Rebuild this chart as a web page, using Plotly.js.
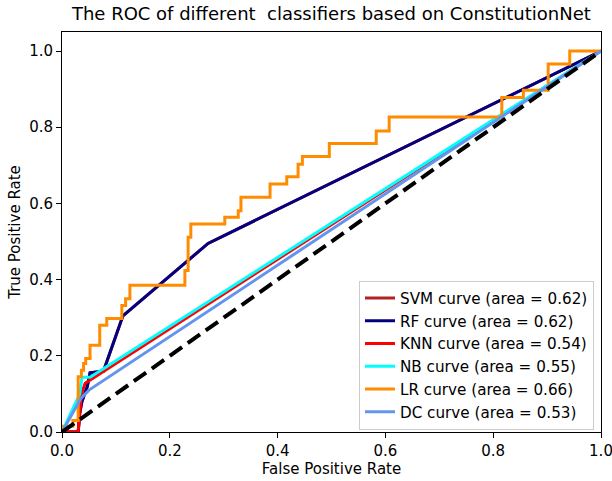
<!DOCTYPE html>
<html>
<head>
<meta charset="utf-8">
<script src="https://cdn.plot.ly/plotly-3.0.1.min.js"></script>
<style>html,body{margin:0;padding:0;background:#fff;}#chart{width:612px;height:481px;}</style>
</head>
<body>
<div id="chart"></div>
<script>
// ROC curve data
const rfFpr  = [0, 0.03, 0.033, 0.037, 0.042, 0.047, 0.052, 0.07, 0.077, 0.113, 0.271, 1.0];
const rfTpr  = [0, 0, 0.05, 0.08, 0.10, 0.12, 0.155, 0.16, 0.16, 0.305, 0.495, 1.0];
const svmFpr = rfFpr.slice();
const svmTpr = rfTpr.slice();
const knnFpr = [0, 0.03, 0.036, 0.043, 1.0];
const knnTpr = [0, 0, 0.10, 0.128, 1.0];
const nbFpr  = [0, 0.02, 0.033, 0.037, 0.052, 1.0];
const nbTpr  = [0, 0.06, 0.10, 0.144, 0.144, 1.0];
const dcFpr  = [0, 0.02, 0.035, 0.05, 1.0];
const dcTpr  = [0, 0.05, 0.088, 0.11, 1.0];
const lrFpr  = [0, 0, 0.02, 0.02, 0.03, 0.03, 0.036, 0.036, 0.040, 0.040, 0.044, 0.044, 0.052, 0.052, 0.07, 0.07, 0.083, 0.083, 0.111, 0.111, 0.118, 0.118, 0.126, 0.126, 0.228, 0.228, 0.234, 0.234, 0.239, 0.239, 0.302, 0.302, 0.327, 0.327, 0.332, 0.332, 0.386, 0.386, 0.417, 0.417, 0.438, 0.438, 0.446, 0.446, 0.496, 0.496, 0.583, 0.583, 0.607, 0.607, 0.816, 0.816, 0.856, 0.856, 0.902, 0.902, 0.942, 0.942, 1.0];
const lrTpr  = [0, 0.015, 0.015, 0.03, 0.03, 0.145, 0.145, 0.162, 0.162, 0.18, 0.18, 0.193, 0.193, 0.228, 0.228, 0.28, 0.28, 0.298, 0.298, 0.332, 0.332, 0.35, 0.35, 0.385, 0.385, 0.424, 0.424, 0.511, 0.511, 0.546, 0.546, 0.564, 0.564, 0.581, 0.581, 0.616, 0.616, 0.651, 0.651, 0.670, 0.670, 0.703, 0.703, 0.723, 0.723, 0.757, 0.757, 0.79, 0.79, 0.827, 0.827, 0.878, 0.878, 0.897, 0.897, 0.966, 0.966, 1.0, 1.0];
const diagX = [0, 1];
const diagY = [0, 1];
const names = ['SVM curve (area = 0.62)', 'RF curve (area = 0.62)', 'KNN curve (area = 0.54)',
               'NB curve (area = 0.55)', 'LR curve (area = 0.66)', 'DC curve (area = 0.53)'];
const colors = ['#b22222', '#000080', '#ff0000', '#00ffff', '#ff8c00', '#6495ed'];
const tickVals = [0, 0.2, 0.4, 0.6, 0.8, 1.0];
const tickText = ['0.0', '0.2', '0.4', '0.6', '0.8', '1.0'];

const series = [[svmFpr, svmTpr], [rfFpr, rfTpr], [knnFpr, knnTpr], [nbFpr, nbTpr], [lrFpr, lrTpr], [dcFpr, dcTpr]];
const traces = series.map((s, i) => ({
  x: s[0], y: s[1], type: 'scatter', mode: 'lines', name: names[i],
  line: {color: colors[i], width: 3}, hoverinfo: 'skip'
}));
traces.push({x: diagX, y: diagY, type: 'scatter', mode: 'lines', showlegend: false,
  line: {color: '#000000', width: 4, dash: '15px,7px'}, hoverinfo: 'skip'});

const font = {family: 'DejaVu Sans, sans-serif', size: 15, color: '#000'};
const legFont = {family: 'DejaVu Sans, sans-serif', size: 15.2, color: '#000'};
const layout = {
  width: 612, height: 481,
  margin: {l: 62, r: 11, t: 32, b: 49},
  paper_bgcolor: '#fff', plot_bgcolor: '#fff',
  font: font,
  title: {text: 'The ROC of different  classifiers based on ConstitutionNet', font: {family: 'DejaVu Sans, sans-serif', size: 18, color: '#000'}, x: 0.5415, xanchor: 'center', y: 0.972, yanchor: 'middle'},
  xaxis: {range: [0, 1], tickvals: tickVals, ticktext: tickText, ticks: 'outside', ticklen: 5, tickwidth: 1, tickcolor: '#000',
    ticklabeloverflow: 'allow',
    showline: true, linecolor: '#000', linewidth: 1, mirror: true, showgrid: false, zeroline: false,
    title: {text: 'False Positive Rate', font: font, standoff: 2}},
  yaxis: {range: [0, 1.05], tickvals: tickVals, ticktext: tickText, ticks: 'outside', ticklen: 5, tickwidth: 1, tickcolor: '#000',
    showline: true, linecolor: '#000', linewidth: 1, mirror: true, showgrid: false, zeroline: false,
    title: {text: 'True Positive Rate', font: font, standoff: 4}},
  legend: {x: 0.987, xanchor: 'right', y: 0.006, yanchor: 'bottom', bgcolor: 'rgba(255,255,255,0.9)', bordercolor: '#cccccc', borderwidth: 1,
    font: legFont, itemwidth: 30, tracegroupgap: 0},
  showlegend: true
};
Plotly.newPlot('chart', traces, layout, {displayModeBar: false, staticPlot: true});
</script>
</body>
</html>
